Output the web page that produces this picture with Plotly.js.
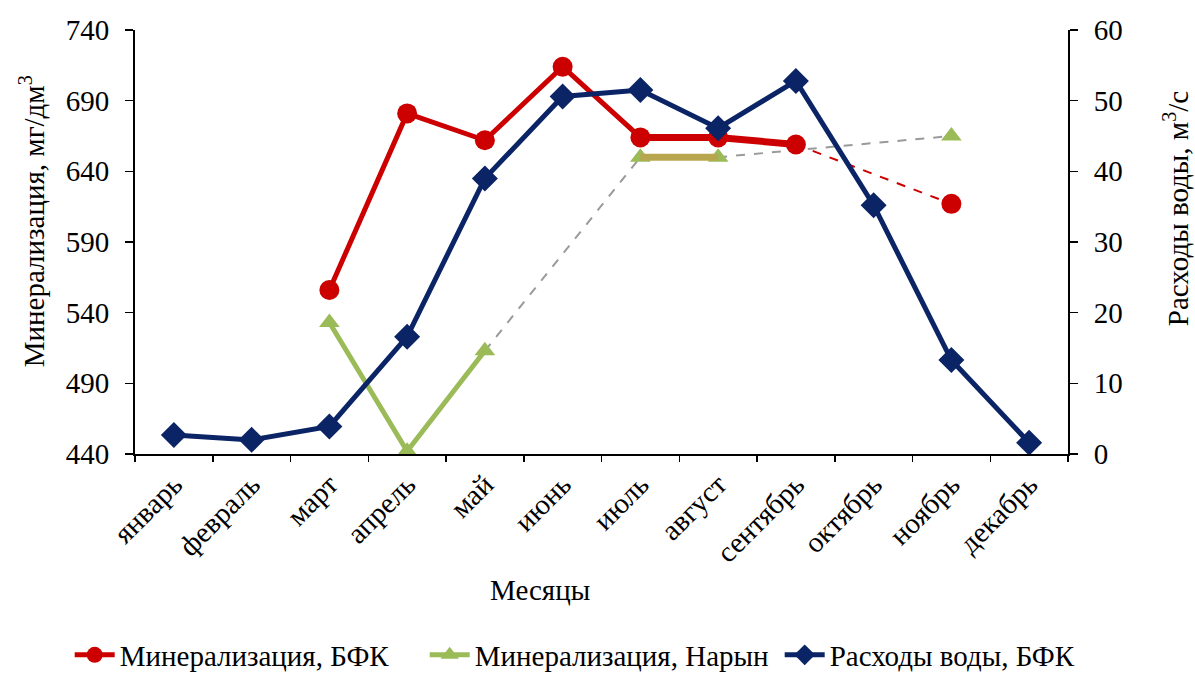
<!DOCTYPE html>
<html>
<head>
<meta charset="utf-8">
<script src="https://cdn.plot.ly/plotly-3.0.1.min.js"></script>
<style>
  html, body { margin: 0; padding: 0; background: #ffffff; }
  #chart { width: 1195px; height: 675px; }
</style>
</head>
<body>
<div id="chart"></div>
<script>
// Categories (months)
const months = ["январь", "февраль", "март", "апрель", "май", "июнь", "июль", "август", "сентябрь", "октябрь", "ноябрь", "декабрь"];

// Mineralization, BFK (mg/dm3) – left axis
const mineralBFK = [null, null, 556, 681, 662, 714, 664, 664, 659, null, 617, null];

// Mineralization, Naryn (mg/dm3) – left axis
const mineralNaryn = [null, null, 533, 442, 513, null, 650, 650, null, null, 665, null];

// Water discharge, BFK (m3/s) – right axis
const dischargeBFK = [2.7, 2.0, 3.9, 16.6, 39.0, 50.6, 51.5, 46.1, 52.8, 35.2, 13.3, 1.6];

// Tick values
const leftTicks = [440, 490, 540, 590, 640, 690, 740];
const rightTicks = [0, 10, 20, 30, 40, 50, 60];

const RED = "#CC0000";
const GREEN = "#9BBB59";
const OLIVE = "#B8A64E";
const BLUE = "#0B2466";
const GRAY = "#9A9A9A";
const FONT = "Liberation Serif, Times New Roman, serif";
const INK = "#000000";

// helper: keep only selected indices of a series (for gap-bridging segments)
function pick(arr, idx) {
  return arr.map((v, i) => idx.includes(i) ? v : null);
}

const traces = [
  // gray dashed bridges for Naryn gaps
  {
    x: months, y: pick(mineralNaryn, [4, 6]), type: "scatter", mode: "lines",
    connectgaps: true, line: { color: GRAY, width: 2, dash: "dash" },
    showlegend: false, hoverinfo: "skip"
  },
  {
    x: months, y: pick(mineralNaryn, [7, 10]), type: "scatter", mode: "lines",
    connectgaps: true, line: { color: GRAY, width: 2, dash: "dash" },
    showlegend: false, hoverinfo: "skip"
  },
  // red dashed bridge for BFK gap
  {
    x: months, y: pick(mineralBFK, [8, 10]), type: "scatter", mode: "lines",
    connectgaps: true, line: { color: RED, width: 2, dash: "dash" },
    showlegend: false, hoverinfo: "skip"
  },
  // Naryn main
  {
    name: "Минерализация, Нарын", legendrank: 2,
    x: months, y: mineralNaryn, type: "scatter", mode: "lines+markers",
    connectgaps: false,
    line: { color: GREEN, width: 5 },
    marker: { symbol: "triangle-up", size: 18, color: GREEN }
  },
  // olive thick segment (июль–август)
  {
    x: months, y: pick(mineralNaryn, [6, 7]), type: "scatter", mode: "lines",
    line: { color: OLIVE, width: 7 }, showlegend: false, hoverinfo: "skip"
  },
  // Discharge
  {
    name: "Расходы воды, БФК", legendrank: 3,
    x: months, y: dischargeBFK, yaxis: "y2", type: "scatter", mode: "lines+markers",
    line: { color: BLUE, width: 5 },
    marker: { symbol: "diamond", size: 20, color: BLUE }
  },
  // BFK main
  {
    name: "Минерализация, БФК", legendrank: 1,
    x: months, y: mineralBFK, type: "scatter", mode: "lines+markers",
    connectgaps: false,
    line: { color: RED, width: 5 },
    marker: { symbol: "circle", size: 20, color: RED }
  },
  // red thick segment (июль–сентябрь)
  {
    x: months, y: pick(mineralBFK, [6, 7, 8]), type: "scatter", mode: "lines",
    line: { color: RED, width: 7 }, showlegend: false, hoverinfo: "skip"
  }
];

const layout = {
  width: 1195, height: 675,
  paper_bgcolor: "#ffffff", plot_bgcolor: "#ffffff",
  margin: { l: 135, r: 127, t: 30, b: 221, autoexpand: false },
  font: { family: FONT, size: 29, color: INK },
  showlegend: true,
  legend: {
    orientation: "h", xref: "paper", yref: "paper",
    x: -0.07, xanchor: "left", y: -0.474, yanchor: "middle",
    font: { family: FONT, size: 29, color: INK },
    traceorder: "normal", itemwidth: 40, tracegroupgap: 0,
    entrywidth: 300, entrywidthmode: "pixels"
  },
  xaxis: {
    type: "category", categoryorder: "array", categoryarray: months,
    range: [-0.5, 11.5], automargin: false,
    showline: true, linecolor: INK, linewidth: 2,
    ticks: "outside", ticklen: 6, tickwidth: 1.5, tickcolor: INK,
    tickson: "boundaries",
    tickangle: -45,
    tickfont: { family: FONT, size: 29, color: INK },
    showgrid: false, zeroline: false, fixedrange: true
  },
  yaxis: {
    range: [440, 740], tickvals: leftTicks, automargin: false,
    showline: true, linecolor: INK, linewidth: 2,
    ticks: "outside", ticklen: 8, tickwidth: 1.5, tickcolor: INK,
    ticklabelstandoff: 10,
    tickfont: { family: FONT, size: 29, color: INK },
    showgrid: false, zeroline: false, fixedrange: true
  },
  yaxis2: {
    range: [0, 60], tickvals: rightTicks, automargin: false,
    overlaying: "y", side: "right", anchor: "x",
    showline: true, linecolor: INK, linewidth: 2,
    ticks: "outside", ticklen: 8, tickwidth: 1.5, tickcolor: INK,
    ticklabelstandoff: 10,
    tickfont: { family: FONT, size: 29, color: INK },
    showgrid: false, zeroline: false, fixedrange: true
  },
  annotations: [
    {
      text: "Минерализация, мг/дм<sup>3</sup>", xref: "paper", yref: "paper",
      x: -0.111, y: 0.55, xanchor: "center", yanchor: "middle",
      textangle: -90, showarrow: false,
      font: { family: FONT, size: 29, color: INK }
    },
    {
      text: "Расходы воды, м<sup>3</sup>/с", xref: "paper", yref: "paper",
      x: 1.116, y: 0.578, xanchor: "center", yanchor: "middle",
      textangle: -90, showarrow: false,
      font: { family: FONT, size: 29, color: INK }
    },
    {
      text: "Месяцы", xref: "paper", yref: "paper",
      x: 0.434, y: -0.321, xanchor: "center", yanchor: "middle",
      showarrow: false,
      font: { family: FONT, size: 29, color: INK }
    }
  ]
};

Plotly.newPlot("chart", traces, layout, { displayModeBar: false, staticPlot: true });
</script>
</body>
</html>
